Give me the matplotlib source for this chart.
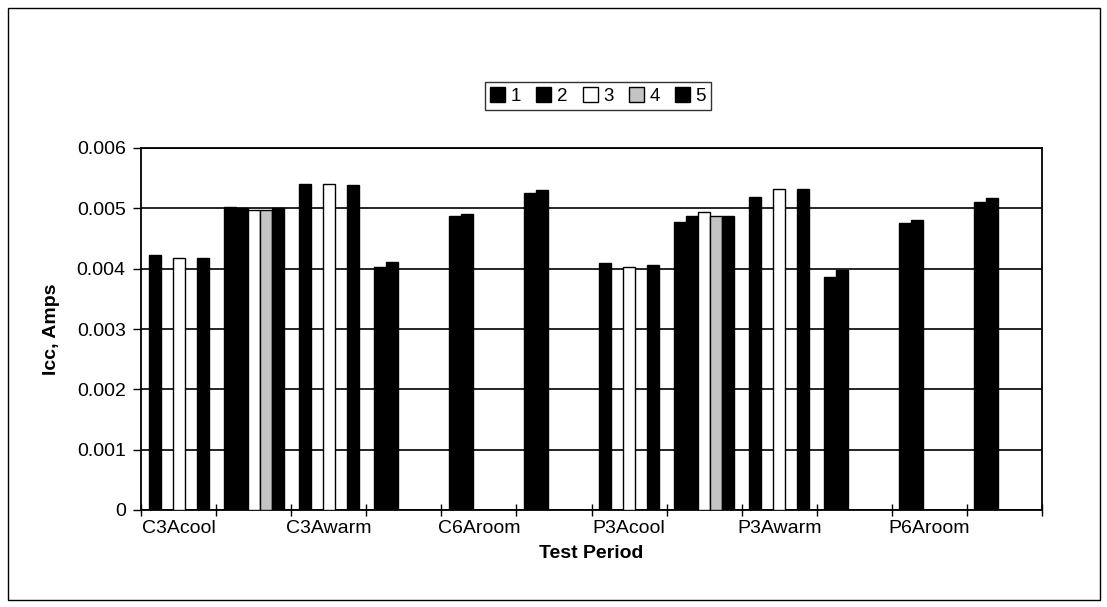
import numpy as np
import matplotlib

matplotlib.use("Agg")
import matplotlib.pyplot as plt
from matplotlib.patches import Rectangle

plt.rcParams["font.family"] = ["Liberation Sans", "DejaVu Sans"]

nan = np.nan

categories = ["C3Acool", "", "C3Awarm", "", "C6Aroom", "", "P3Acool", "", "P3Awarm", "", "P6Aroom", ""]
series_names = ["1", "2", "3", "4", "5"]

s1 = [0.00423, 0.00503, 0.00541, 0.00403, 0.00488, 0.00525, 0.00410, 0.00478, 0.00518, 0.00386, 0.00475, 0.00511]
s2 = [nan, 0.00500, nan, 0.00411, 0.00490, 0.00530, nan, 0.00488, nan, 0.00398, 0.00481, 0.00517]
s3 = [0.00417, 0.00497, 0.00540, nan, nan, nan, 0.00403, 0.00494, 0.00532, nan, nan, nan]
s4 = [nan, 0.00498, nan, nan, nan, nan, nan, 0.00487, nan, nan, nan, nan]
s5 = [0.00417, 0.00500, 0.00538, nan, nan, nan, 0.00406, 0.00488, 0.00532, nan, nan, nan]

y_ticks = [0, 0.001, 0.002, 0.003, 0.004, 0.005, 0.006]
y_tick_labels = ["0", "0.001", "0.002", "0.003", "0.004", "0.005", "0.006"]

fills = ["black", "black", "white", "#c4c4c4", "black"]

fig = plt.figure(figsize=(11.07, 6.07), dpi=100, facecolor="white")

# outer chart-area border
fig.patches.append(Rectangle((8 / 1107, 7 / 607), 1092 / 1107, 592 / 607, transform=fig.transFigure,
                             fill=False, edgecolor="black", linewidth=1.0))

ax = fig.add_axes([141 / 1107, 1 - 510 / 607, (1042 - 141) / 1107, (510 - 148) / 607])

x = np.arange(len(categories))
width = 0.16
all_series = [s1, s2, s3, s4, s5]
for i, (vals, name, fc) in enumerate(zip(all_series, series_names, fills)):
    ax.bar(x + (i - 2) * width, vals, width, color=fc, edgecolor="black", linewidth=1.0,
           label=name, zorder=3)

ax.set_xlim(-0.5, len(categories) - 0.5)
ax.set_ylim(0, 0.006)
ax.set_yticks(y_ticks)
ax.set_yticklabels(y_tick_labels, fontsize=14)
ax.yaxis.grid(True, color="black", linewidth=1.2, zorder=0)

ax.set_xticks(x)
ax.set_xticklabels(categories, fontsize=14)
ax.tick_params(axis="x", which="major", length=0, pad=7)
ax.set_xticks(np.arange(-0.5, len(categories) + 0.5, 1), minor=True)
ax.tick_params(axis="x", which="minor", length=8, direction="inout", width=1)
ax.tick_params(axis="y", length=6, width=1, direction="out", pad=5)

for spine in ax.spines.values():
    spine.set_linewidth(1.3)
    spine.set_color("black")

ax.set_xlabel("Test Period", fontsize=14, fontweight="bold", labelpad=6)
ax.set_ylabel("Icc, Amps", fontsize=14, fontweight="bold", labelpad=12)

leg = ax.legend(ncol=5, loc="center", bbox_to_anchor=(598 / 1107, 1 - 96 / 607),
                bbox_transform=fig.transFigure, frameon=True, fancybox=False,
                handlelength=0.8, handleheight=0.8, handletextpad=0.3, columnspacing=0.8,
                borderpad=0.3, fontsize=13.5)
leg.get_frame().set_edgecolor("black")
leg.get_frame().set_linewidth(1.0)

fig.savefig("out.png", dpi=100, facecolor="white")
